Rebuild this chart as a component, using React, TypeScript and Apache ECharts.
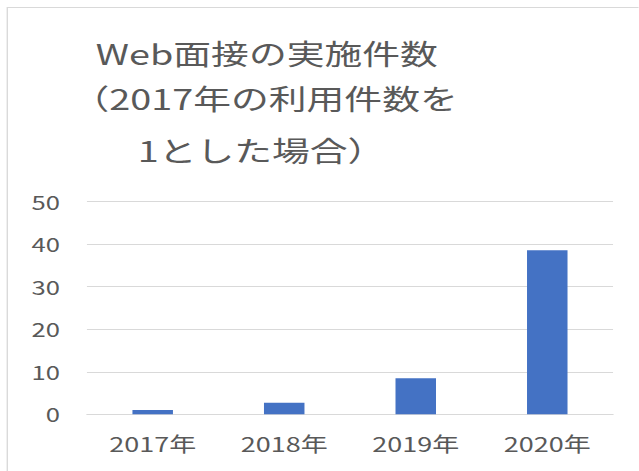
import React, { useEffect, useRef } from "react";
import * as echarts from "echarts";

const categories = ["2017年", "2018年", "2019年", "2020年"];
const values = [1, 2.7, 8.5, 38.6];
const titleLines = ["Web面接の実施件数", "（2017年の利用件数を", "1とした場合）"];
const yMin = 0;
const yMax = 50;
const yInterval = 10;

const S = 1.35;
const W = 639 / S;
const H = 471;
const FONT = "'Noto Sans CJK JP', 'Noto Sans', sans-serif";
const GRAY = "#595959";

export default function App() {
  const ref = useRef<HTMLDivElement>(null);
  useEffect(() => {
    const chart = echarts.init(ref.current!, null, { renderer: "svg", width: W, height: H });
    const titlePos = [
      { x: 71, y: 53 },
      { x: 53, y: 98 },
      { x: 102, y: 150 },
    ];
    chart.setOption({
      animation: false,
      backgroundColor: "#ffffff",
      textStyle: { fontFamily: FONT },
      graphic: [
        {
          type: "rect",
          shape: { x: 5.4, y: 7.5, width: 1000, height: 1000 },
          style: { fill: "none", stroke: "#d9d9d9", lineWidth: 1 },
          silent: true,
        },
        ...titleLines.map((t, i) => ({
          type: "text",
          style: {
            text: t,
            x: titlePos[i].x,
            y: titlePos[i].y,
            fontSize: 28,
            fontFamily: FONT,
            fill: GRAY,
            align: "left",
            verticalAlign: "middle",
          },
        })),
      ],
      grid: {
        left: 64.4,
        right: W - 454.1,
        top: 201.7,
        bottom: H - 414.3,
        containLabel: false,
        outerBoundsMode: "none",
      },
      xAxis: {
        type: "category",
        data: categories,
        axisTick: { show: false },
        axisLine: { show: true, lineStyle: { color: "#d9d9d9", width: 1 } },
        axisLabel: { color: GRAY, fontSize: 20, margin: 19, fontFamily: FONT },
      },
      yAxis: {
        type: "value",
        min: yMin,
        max: yMax,
        interval: yInterval,
        axisLine: { show: false },
        axisTick: { show: false },
        splitLine: { lineStyle: { color: "#d9d9d9", width: 1 } },
        axisLabel: { color: GRAY, fontSize: 19, margin: 20, fontFamily: FONT },
      },
      series: [
        {
          type: "bar",
          data: values,
          barWidth: 30,
          itemStyle: { color: "#4472C4" },
        },
      ],
    });
    return () => chart.dispose();
  }, []);
  return (
    <div
      ref={ref}
      style={{
        position: "fixed",
        left: 0,
        top: 0,
        width: W,
        height: H,
        transform: `scaleX(${S})`,
        transformOrigin: "0 0",
        background: "#fff",
      }}
    />
  );
}
